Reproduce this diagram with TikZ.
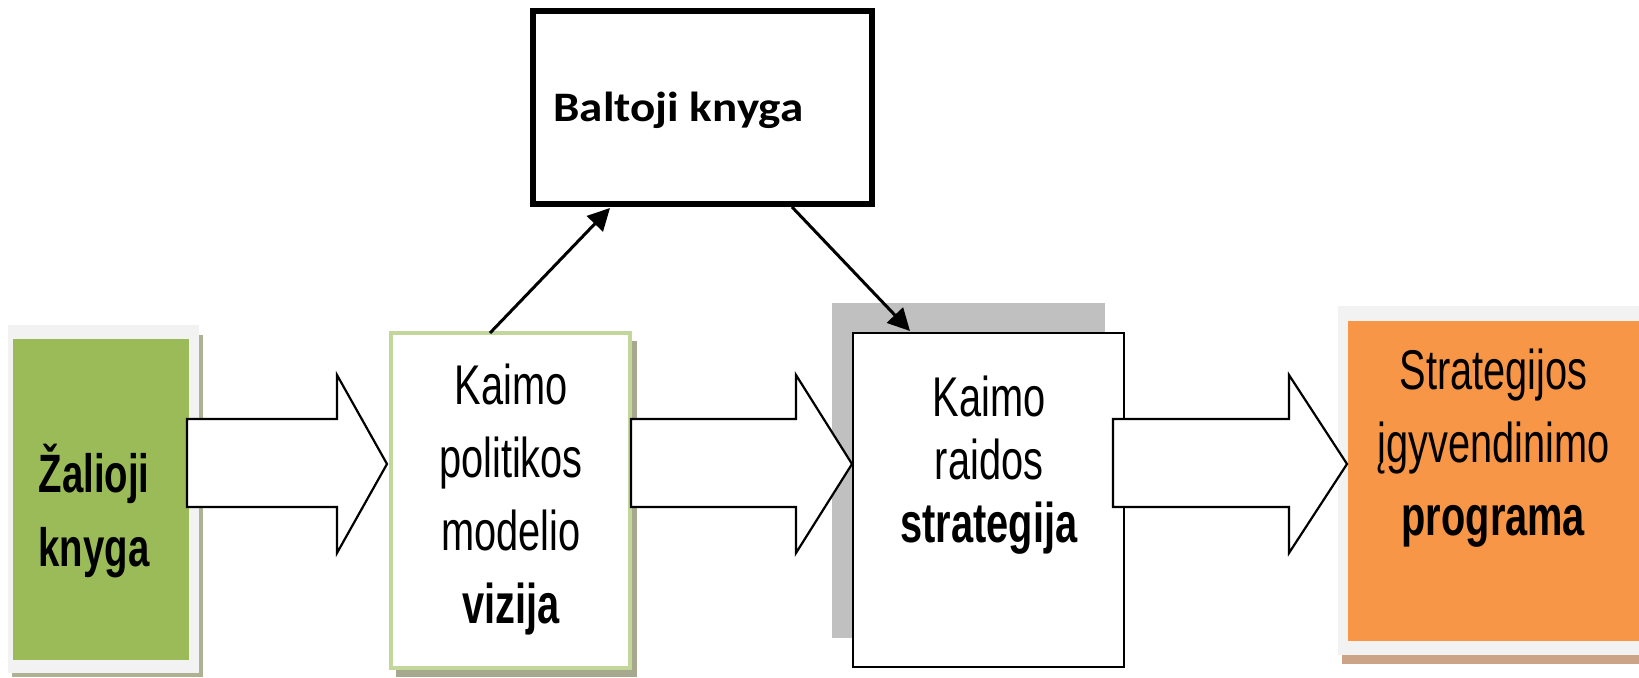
\documentclass[tikz,border=0pt]{standalone}
\usepackage{fontspec}
\newfontfamily\arnarrow[FakeStretch=0.71]{Liberation Sans}
\newfontfamily\calibb[FakeStretch=1.12]{Carlito}
\usetikzlibrary{arrows.meta}
\definecolor{zgreen}{HTML}{9BBB59}
\definecolor{frameg}{HTML}{F2F2F2}
\definecolor{olivesh}{HTML}{AEB293}
\definecolor{vborder}{HTML}{C3D69B}
\definecolor{vshadow}{HTML}{A6A98D}
\definecolor{gshade}{HTML}{C0C0C0}
\definecolor{orng}{HTML}{F79646}
\definecolor{brsh}{HTML}{CBA387}
\tikzset{
  box/.style={inner sep=0pt, outer sep=0pt},
  txt/.style={inner sep=0pt, outer sep=0pt, align=center, text width=150pt, anchor=base},
  blockarrow/.style={draw=black, line width=1.1pt, fill=white, line join=miter},
  conn/.style={draw=black, line width=1.5pt, -{Triangle[length=11pt,width=11pt]}},
}
\begin{document}
\begin{tikzpicture}[x=0.5pt,y=-0.5pt]
\useasboundingbox (0,0) rectangle (1639,678);
\begin{scope}
\clip (0,0) rectangle (1639,678);
% green box
\fill[olivesh] (12,335) rectangle (203,677);
\fill[frameg] (8,325) rectangle (199,673);
\node[box, fill=zgreen, minimum width=88pt, minimum height=160.5pt] (zk) at (101,499.5) {};
\node[txt, font=\arnarrow\bfseries\fontsize{27}{37}\selectfont] (zkt) at (94,493) {Žalioji\\knyga};
% vizija box
\fill[vshadow] (396,341) rectangle (637,677);
\node[box, draw=vborder, line width=2pt, fill=white, minimum width=119.5pt, minimum height=167.5pt] (viz) at (510.5,500.5) {};
\node[txt, font=\arnarrow\fontsize{28}{36.5}\selectfont] (vizt) at (511,405) {Kaimo\\politikos\\modelio\\\textbf{vizija}};
% strategy box
\fill[gshade] (832,303) rectangle (1105,638);
\node[box, draw=black, line width=1.2pt, fill=white, minimum width=135.5pt, minimum height=167pt] (krs) at (988.5,500) {};
\node[txt, font=\arnarrow\fontsize{28}{31.5}\selectfont] (krst) at (989,417) {Kaimo\\raidos\\\textbf{strategija}};
% programme box
\fill[brsh] (1342,650) rectangle (1650,664);
\fill[frameg] (1338,306) rectangle (1650,655);
\node[box, fill=orng, minimum width=145.5pt, minimum height=160pt] (sip) at (1493.5,481) {};
\node[txt, font=\arnarrow\fontsize{28}{36.5}\selectfont] (sipt) at (1493.5,390) {Strategijos\\įgyvendinimo\\\textbf{programa}};
% top box
\node[box, draw=black, line width=3pt, fill=white, minimum width=169.5pt, minimum height=96.5pt] (bk) at (702.5,107.5) {};
\node[inner sep=0pt, anchor=base west, font=\calibb\bfseries\fontsize{21}{25}\selectfont] (bkt) at (553,122) {Baltoji knyga};
% block arrows
\draw[blockarrow] (187,419) -- (337,419) -- (337,375) -- (387,464) -- (337,553) -- (337,507) -- (187,507) -- cycle;
\draw[blockarrow] (631,419) -- (796,419) -- (796,375) -- (852,464) -- (796,553) -- (796,507) -- (631,507) -- cycle;
\draw[blockarrow] (1113,419) -- (1289,419) -- (1289,375) -- (1347,464) -- (1289,553) -- (1289,507) -- (1113,507) -- cycle;
% thin connectors
\draw[conn] ([xshift=49.5pt]viz.north west) -- ([xshift=38.5pt,yshift=-2pt]bk.south west);
\draw[conn] ([xshift=129.5pt,yshift=-1.5pt]bk.south west) -- ([xshift=28.5pt,yshift=1pt]krs.north west);
\end{scope}
\end{tikzpicture}
\end{document}
